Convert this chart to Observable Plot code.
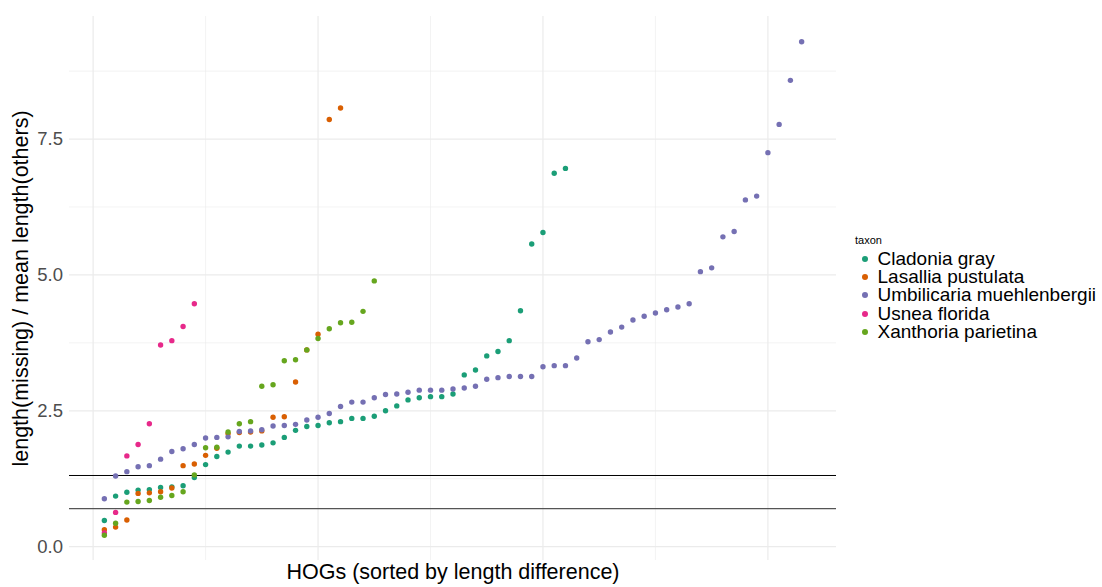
<!DOCTYPE html>
<html>
<head>
<meta charset="utf-8">
<script src="https://cdn.jsdelivr.net/npm/d3@7"></script>
<script src="https://cdn.jsdelivr.net/npm/@observablehq/plot@0.6"></script>
<style>
  html, body { margin: 0; padding: 0; background: #fff; }
  #wrap { position: relative; width: 1102px; height: 587px; font-family: "Liberation Sans", Arial, sans-serif; }
  #chart { position: absolute; left: 0; top: 0; }
  #legend { position: absolute; left: 855px; top: 234px; color: #000; }
  #legend .title { font-size: 11px; line-height: 13px; height: 16px; }
  #legend .row { display: flex; align-items: center; height: 18.2px; line-height: 18.2px; font-size: 19px; white-space: nowrap; }
  #legend .dot { width: 6px; height: 6px; border-radius: 50%; margin-left: 7px; margin-right: 9.5px; flex: none; }
</style>
</head>
<body>
<div id="wrap"><div id="chart"></div><div id="legend"></div></div>
<script>
// ---- data ----
const taxa = ["Cladonia gray", "Lasallia pustulata", "Umbilicaria muehlenbergii", "Usnea florida", "Xanthoria parietina"];
const taxonColors = ["#1B9E77", "#D95F02", "#7570B3", "#E7298A", "#66A61E"];

// ratios, sorted; the i-th value belongs to HOG rank i+1
const cladonia = [0.48,0.93,1.00,1.04,1.05,1.09,1.10,1.12,1.27,1.51,1.66,1.74,1.85,1.85,1.87,1.91,2.01,2.14,2.21,2.23,
  2.28,2.30,2.36,2.36,2.40,2.50,2.59,2.70,2.74,2.76,2.76,2.81,3.16,3.25,3.51,3.59,3.79,4.34,5.57,5.78,6.87,6.96];
const lasallia = [0.31,0.36,0.49,0.98,0.99,1.01,1.08,1.49,1.52,1.68,1.81,2.08,2.10,2.11,2.13,2.38,2.39,3.03,3.62,3.91,7.86,8.07];
const umbilicaria = [0.88,1.30,1.38,1.47,1.49,1.61,1.75,1.80,1.88,2.00,2.01,2.02,2.12,2.13,2.15,2.22,2.23,2.25,2.33,2.38,
  2.45,2.58,2.66,2.66,2.74,2.80,2.81,2.84,2.88,2.88,2.88,2.90,2.92,2.95,3.08,3.11,3.13,3.13,3.13,3.31,
  3.33,3.33,3.47,3.77,3.81,3.95,4.04,4.17,4.24,4.30,4.36,4.41,4.47,5.06,5.13,5.70,5.80,6.38,6.45,7.25,
  7.77,8.58,9.29];
const usnea = [0.25,0.63,1.67,1.88,2.26,3.71,3.79,4.05,4.47];
const xanthoria = [0.21,0.43,0.82,0.83,0.85,0.91,0.94,1.01,1.32,1.82,1.83,2.11,2.26,2.30,2.95,2.98,3.42,3.44,3.62,3.83,
  4.01,4.12,4.13,4.33,4.89];

const upperThreshold = [1.3];
const lowerThreshold = [0.7];
const yTicks = [0, 2.5, 5, 7.5];
const yMinor = [1.25, 3.75, 6.25, 8.75];
const xMajor = [0, 20, 40, 60];
const xMinor = [10, 30, 50];
const xTitle = "HOGs (sorted by length difference)";
const yTitle = "length(missing) / mean length(others)";

// ---- table for Plot ----
const series = [cladonia, lasallia, umbilicaria, usnea, xanthoria];
const rows = [];
series.forEach((vals, k) => vals.forEach((v, i) => rows.push({taxon: taxa[k], hog: i + 1, ratio: v})));

const grid = "#ebebeb";
const chart = Plot.plot({
  width: 840,
  height: 587,
  marginLeft: 69,
  marginRight: 4,
  marginTop: 16,
  marginBottom: 27,
  style: {fontFamily: "'Liberation Sans', Arial, sans-serif", background: "white", overflow: "visible"},
  x: {domain: [-2.1, 66.1], axis: null},
  y: {domain: [-0.255, 9.755], axis: null},
  color: {domain: taxa, range: taxonColors},
  marks: [
    Plot.ruleX(xMinor, {stroke: grid, strokeWidth: 0.6}),
    Plot.ruleY(yMinor, {stroke: grid, strokeWidth: 0.6}),
    Plot.ruleX(xMajor, {stroke: grid, strokeWidth: 1.2}),
    Plot.ruleY(yTicks, {stroke: grid, strokeWidth: 1.2}),
    Plot.axisY({ticks: yTicks, tickFormat: d3.format(".1f"), tickSize: 0, tickPadding: 6.5,
      fontSize: 18.5, fill: "#4d4d4d", label: null}),
    Plot.ruleY(upperThreshold, {stroke: "#000", strokeWidth: 1, dy: -0.5}),
    Plot.ruleY(lowerThreshold, {stroke: "#555", strokeWidth: 1.4}),
    Plot.dot(rows, {x: "hog", y: "ratio", fill: "taxon", r: 2.7}),
    Plot.text([yTitle], {frameAnchor: "left", textAnchor: "middle", lineAnchor: "middle", rotate: -90,
      dx: -48, fontSize: 21.5, fill: "#000"}),
    Plot.text([xTitle], {frameAnchor: "bottom", textAnchor: "middle", lineAnchor: "middle",
      dy: 12, fontSize: 21.5, fill: "#000"})
  ]
});
document.getElementById("chart").appendChild(chart);

// ---- legend ----
const legend = document.getElementById("legend");
const t = document.createElement("div");
t.className = "title";
t.textContent = "taxon";
legend.appendChild(t);
taxa.forEach((name, k) => {
  const r = document.createElement("div");
  r.className = "row";
  const d = document.createElement("span");
  d.className = "dot";
  d.style.background = taxonColors[k];
  const s = document.createElement("span");
  s.textContent = name;
  r.appendChild(d);
  r.appendChild(s);
  legend.appendChild(r);
});
</script>
</body>
</html>
